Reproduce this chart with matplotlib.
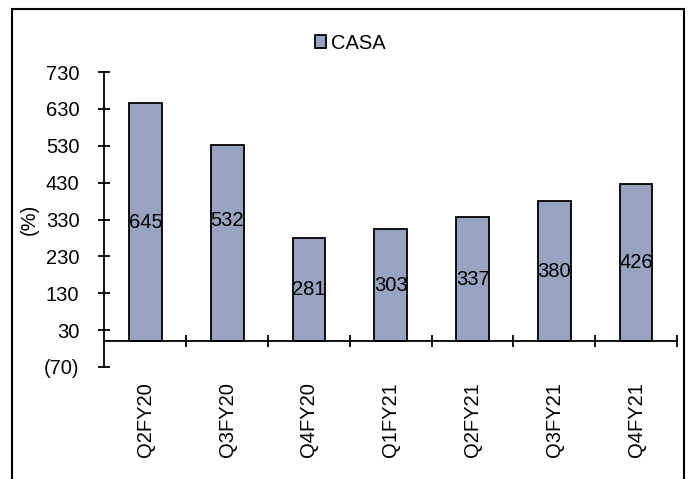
import matplotlib
matplotlib.use("Agg")
import matplotlib.pyplot as plt
from matplotlib.patches import Rectangle
from matplotlib.ticker import FixedLocator, FuncFormatter

plt.rcParams['font.family'] = ['Liberation Sans', 'DejaVu Sans']

quarters = ["Q2FY20", "Q3FY20", "Q4FY20", "Q1FY21", "Q2FY21", "Q3FY21", "Q4FY21"]
casa = [645, 532, 281, 303, 337, 380, 426]
y_ticks = [-70, 30, 130, 230, 330, 430, 530, 630, 730]

bar_color = "#97A3C0"
fs = 14.5
# vertical nudge (points) of each value label from the bar's middle
label_nudge = [0, 16.5, 0, 0, 0, 0, 0]

W, H = 692, 479
fig = plt.figure(figsize=(W / 100, H / 100), dpi=100)
ax = fig.add_axes([104.5 / W, 112 / H, (677 - 104.5) / W, (407 - 112) / H])

x = list(range(len(quarters)))
ax.bar(x, casa, width=0.4, color=bar_color, edgecolor="black",
       linewidth=1.3, label="CASA", zorder=2)

# value labels centred inside each bar
for xi, v, dy in zip(x, casa, label_nudge):
    ax.annotate(f"{v}", xy=(xi, v / 2), xytext=(0, dy),
                textcoords="offset points", ha="center", va="center",
                fontsize=fs, zorder=3)

ax.set_xlim(-0.5, len(quarters) - 0.5)
ax.set_ylim(-70, 730)

# y axis
ax.yaxis.set_major_locator(FixedLocator(y_ticks))
ax.yaxis.set_major_formatter(FuncFormatter(
    lambda v, p: f"({abs(int(v))})" if v < 0 else f"{int(v)}"))
ax.tick_params(axis="y", direction="inout", length=8, width=1.3,
               labelsize=fs, pad=14)
ax.set_ylabel("(%)", fontsize=fs, labelpad=4)

# zero line with category-boundary ticks
ax.spines["bottom"].set_position(("data", 0))
ax.spines["bottom"].set_linewidth(1.3)
ax.spines["left"].set_linewidth(1.3)
ax.spines["top"].set_visible(False)
ax.spines["right"].set_visible(False)
ax.xaxis.set_major_locator(FixedLocator([i + 0.5 for i in x]))
ax.tick_params(axis="x", direction="inout", length=8, width=1.3,
               labelbottom=False)

# category labels along the bottom of the plot area
sec = ax.secondary_xaxis("bottom")
sec.set_xticks(x)
sec.set_xticklabels(quarters, rotation=90, fontsize=fs)
sec.tick_params(length=0, pad=11)
sec.spines["bottom"].set_visible(False)

ax.legend(loc="center", bbox_to_anchor=(0.43, 1.098), frameon=False,
          fontsize=fs, handlelength=0.55, handleheight=0.55,
          handletextpad=0.25, borderaxespad=0, borderpad=0)

# outer frame
fig.patches.append(Rectangle((12 / W, -0.1), (684 - 12) / W, 1.1 - 9 / H,
                             transform=fig.transFigure, fill=False,
                             edgecolor="black", linewidth=1.5))

fig.savefig("out.png", dpi=100)
